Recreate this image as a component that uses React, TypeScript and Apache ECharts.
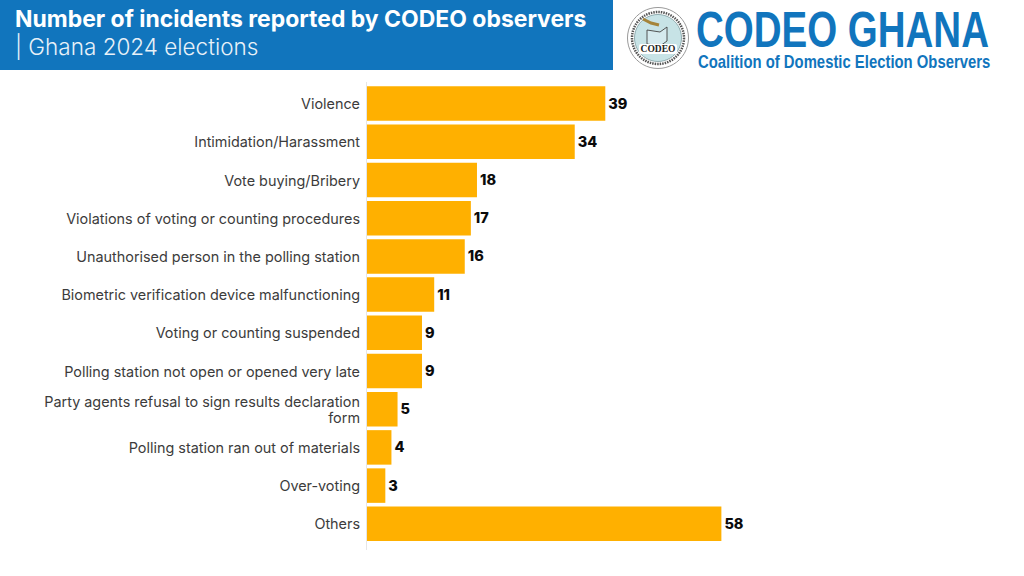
import React, { useEffect, useRef } from "react";
import * as echarts from "echarts";

const categories = [
  "Violence",
  "Intimidation/Harassment",
  "Vote buying/Bribery",
  "Violations of voting or counting procedures",
  "Unauthorised person in the polling station",
  "Biometric verification device malfunctioning",
  "Voting or counting suspended",
  "Polling station not open or opened very late",
  "Party agents refusal to sign results declaration\nform",
  "Polling station ran out of materials",
  "Over-voting",
  "Others",
];
const incidents = [39, 34, 18, 17, 16, 11, 9, 9, 5, 4, 3, 58];
const titleText = "Number of incidents reported by CODEO observers";
const subtitleText = "| Ghana 2024 elections";
const logoName = "CODEO GHANA";
const logoTagline = "Coalition of Domestic Election Observers";
const sealName = "CODEO";

const FONT = "Inter, 'Noto Sans', sans-serif";
const BLUE = "#1175BD";

export default function App() {
  const ref = useRef<HTMLDivElement>(null);
  useEffect(() => {
    const chart = echarts.init(ref.current!, undefined, { renderer: "svg" });
    chart.setOption({
      animation: false,
      backgroundColor: "#ffffff",
      grid: { left: 367, top: 84.5, width: 611, height: 458.4, containLabel: false },
      xAxis: { type: "value", min: 0, max: 100, show: false },
      yAxis: {
        type: "category",
        inverse: true,
        data: categories,
        axisTick: { show: false },
        axisLine: { show: false },
        axisLabel: {
          color: "#3c3c3c",
          fontFamily: FONT,
          fontSize: 14.4,
          margin: 7,
          lineHeight: 16,
          align: "right",
        },
      },
      series: [
        {
          type: "bar",
          data: incidents,
          barWidth: 34.5,
          itemStyle: { color: "#FFB000" },
          label: {
            show: true,
            position: "right",
            distance: 3,
            offset: [0, -0.5],
            color: "#0b0b0b",
            fontFamily: FONT,
            fontWeight: 800,
            fontSize: 14.5,
          },
        },
      ],
      graphic: [
        { type: "line", shape: { x1: 366.5, y1: 82, x2: 366.5, y2: 550 }, style: { stroke: "#E6E6E6", lineWidth: 1 }, z: -1 },
        { type: "rect", shape: { x: 0, y: 0, width: 613, height: 70 }, style: { fill: BLUE } },
        {
          type: "text", x: 15, y: 7,
          style: { text: titleText, fill: "#fff", font: `700 22.95px ${FONT}` },
        },
        {
          type: "text", x: 15, y: 34.5,
          style: { text: subtitleText, fill: "#E8F1F8", font: `300 22.5px ${FONT}` },
        },
        // seal
        { type: "circle", shape: { cx: 658, cy: 38, r: 30.5 }, style: { fill: "#fff", stroke: "#9a9a9a", lineWidth: 1 } },
        { type: "circle", shape: { cx: 658, cy: 38, r: 26 }, style: { fill: "none", stroke: "#555", lineWidth: 2.5, lineDash: [1.5, 1] } },
        { type: "circle", shape: { cx: 658, cy: 38, r: 23.5 }, style: { fill: "#C7E3E6", stroke: "#6f8f94", lineWidth: 0.7 } },
        { type: "polygon", shape: { points: [[647, 30], [660, 32], [667, 27], [667, 41], [660, 46], [647, 44]] }, style: { fill: "#D5EAEE", stroke: "#444", lineWidth: 0.9 } },
        { type: "polyline", shape: { points: [[643, 19], [651, 23], [659, 25]] }, style: { stroke: "#A5843A", lineWidth: 3, fill: "none" } },
        { type: "rect", shape: { x: 639, y: 44, width: 38, height: 10, r: 2 }, style: { fill: "#fff" } },
        {
          type: "text", x: 658, y: 49,
          style: { text: sealName, fill: "#222", font: "700 9.5px 'Liberation Serif', serif", align: "center", verticalAlign: "middle" },
        },
        // wordmark
        {
          type: "text", x: 696, y: 5, scaleX: 0.77, scaleY: 1,
          style: { text: logoName, fill: BLUE, font: "700 50px 'Liberation Sans Narrow', 'Liberation Sans', sans-serif", letterSpacing: 1.5 },
        },
        {
          type: "text", x: 698, y: 52.5, scaleX: 0.826, scaleY: 1,
          style: { text: logoTagline, fill: BLUE, font: "700 18px 'Liberation Sans Narrow', 'Liberation Sans', sans-serif" },
        },
      ],
    });
    return () => chart.dispose();
  }, []);
  return <div ref={ref} style={{ position: "absolute", left: 0, top: 0, width: 1024, height: 576 }} />;
}
